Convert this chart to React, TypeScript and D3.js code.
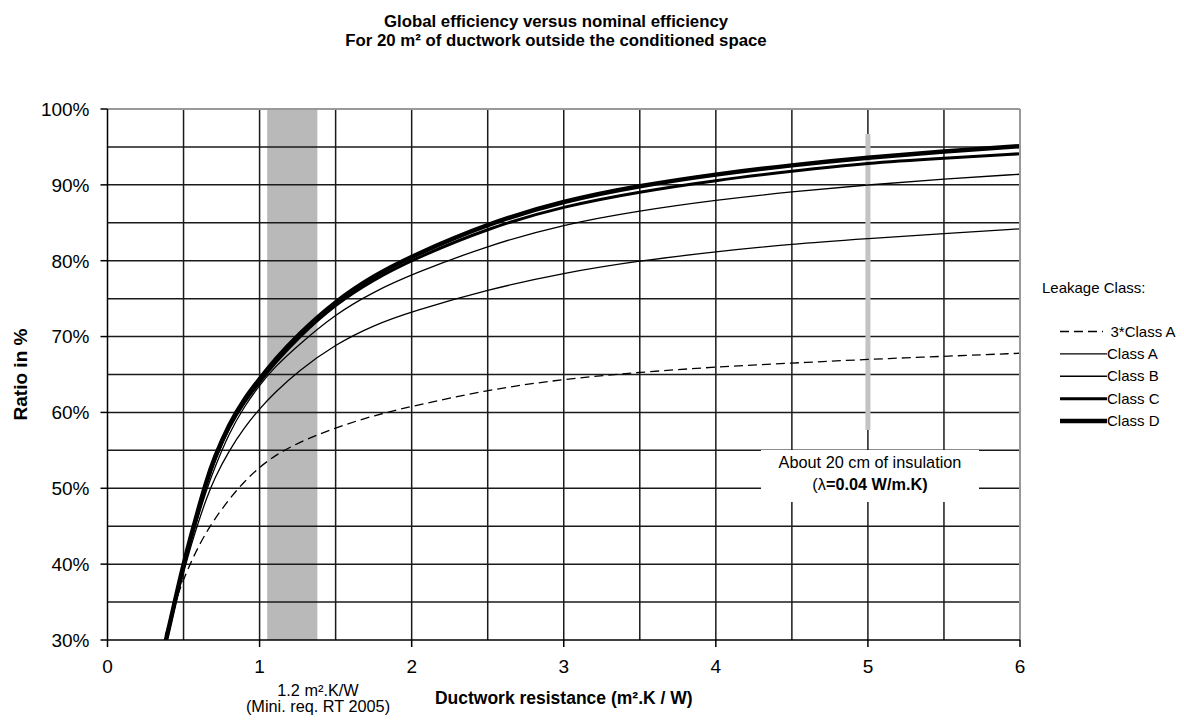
import * as d3 from "d3";

// resistance (m².K/W) sampled along the curves
const resistance = [
  0.38, 0.4, 0.45, 0.5, 0.55, 0.6, 0.65, 0.7, 0.8, 0.9, 1, 1.1, 1.25, 1.5, 1.75, 2, 2.5, 3, 3.5, 4, 4.5, 5, 5.5, 6,
];

// efficiency ratio in % per leakage class
const class3A = [
  30.6, 32, 35.3, 38, 40.3, 42.4, 44.2, 45.8, 48.6, 50.9, 52.8, 54.3, 56, 58, 59.6, 60.8, 63, 64.4, 65.3, 66, 66.5, 67,
  67.4, 67.8,
];
const classA = [
  29.5, 30.9, 35, 38.9, 42.5, 45.7, 48.6, 51.2, 55, 58, 60.5, 62.6, 65.4, 69, 71.5, 73.3, 76.2, 78.4, 80, 81.2, 82.2,
  82.9, 83.6, 84.2,
];
const classB = [
  29.5, 31, 35.3, 39.4, 43.1, 46.5, 49.7, 52.5, 57.3, 60.8, 63.6, 66, 68.8, 73, 75.9, 78.2, 82, 84.8, 86.6, 88, 89.1, 90,
  90.8, 91.4,
];
const classC = [
  29.5, 31.1, 35.5, 39.8, 43.6, 47.2, 50.6, 53.6, 58.2, 61.4, 64, 66.5, 69.8, 74.3, 77.5, 80.1, 84.3, 87.2, 89.1, 90.6,
  91.8, 92.9, 93.5, 94.1,
];
const classD = [
  29.6, 31.3, 35.7, 40, 43.8, 47.4, 50.9, 53.9, 58.5, 61.8, 64.4, 66.9, 70.2, 74.7, 78, 80.6, 84.9, 87.9, 89.9, 91.4,
  92.6, 93.6, 94.4, 95.1,
];

const seriesNames = ["3*Class A", "Class A", "Class B", "Class C", "Class D"];
const seriesValues = [class3A, classA, classB, classC, classD];
const seriesWidths = [1.3, 1.3, 1.3, 3, 4.5];
const seriesDash = ["9,5", null, null, null, null];

const xTicks = [0, 1, 2, 3, 4, 5, 6];
const yTicks = [30, 40, 50, 60, 70, 80, 90, 100];

const minReq = [1.05, 1.38]; // RT 2005 band
const insulation = { r: 5, from: 57.7, to: 96.7 };

const W = 1184;
const H = 720;
const margin = { top: 109, right: 164, bottom: 80, left: 107.5 };
const font = "'Liberation Sans', Arial, sans-serif";

export default function App() {
  const x = d3.scaleLinear().domain([0, 6]).range([margin.left, W - margin.right]);
  const y = d3.scaleLinear().domain([30, 100]).range([H - margin.bottom, margin.top]);

  const line = d3
    .line<number>()
    .x((_, i) => x(resistance[i]))
    .y((d) => y(d))
    .curve(d3.curveBasis);

  const vGrid = d3.range(0.5, 6, 0.5);
  const hGrid = d3.range(35, 100, 5);
  const gridColor = "#1a1a1a";

  const legendX = 1060;
  const legendY = d3.scaleLinear().domain([0, 4]).range([331.5, 421]);
  const plotMidX = (x(0) + x(6)) / 2;
  const plotMidY = (y(30) + y(100)) / 2;

  return (
    <svg width={W} height={H} style={{ position: "absolute", left: 0, top: 0, background: "#fff" }} fontFamily={font}>
      <defs>
        <clipPath id="plot">
          <rect x={x(0)} y={y(100)} width={x(6) - x(0)} height={y(30) - y(100)} />
        </clipPath>
      </defs>

      {/* title */}
      <text x={556} y={27} textAnchor="middle" fontSize={16.8} fontWeight="bold">
        Global efficiency versus nominal efficiency
      </text>
      <text x={556} y={46} textAnchor="middle" fontSize={16.8} fontWeight="bold">
        For 20 m² of ductwork outside the conditioned space
      </text>

      {/* min requirement band */}
      <rect x={x(minReq[0])} y={y(100)} width={x(minReq[1]) - x(minReq[0])} height={y(30) - y(100)} fill="#b9b9b9" />

      {/* grid */}
      {vGrid.map((v) => (
        <line key={"v" + v} x1={x(v)} x2={x(v)} y1={y(100)} y2={y(30)} stroke={gridColor} strokeWidth={1.5} />
      ))}
      {hGrid.map((v) => (
        <line key={"h" + v} x1={x(0)} x2={x(6)} y1={y(v)} y2={y(v)} stroke={gridColor} strokeWidth={1.5} />
      ))}

      {/* insulation marker */}
      <line
        x1={x(insulation.r)}
        x2={x(insulation.r)}
        y1={y(insulation.to)}
        y2={y(insulation.from)}
        stroke="#c3c3c3"
        strokeWidth={5}
      />

      {/* curves */}
      <g clipPath="url(#plot)">
        {seriesValues.map((vals, i) => (
          <path
            key={seriesNames[i]}
            d={line(vals) || ""}
            fill="none"
            stroke="#000"
            strokeWidth={seriesWidths[i]}
            strokeDasharray={seriesDash[i] || undefined}
          />
        ))}
      </g>

      {/* borders */}
      <line x1={x(0)} x2={x(6)} y1={y(100)} y2={y(100)} stroke="#999" strokeWidth={2} />
      <line x1={x(6)} x2={x(6)} y1={y(100)} y2={y(30)} stroke="#999" strokeWidth={2} />
      <line x1={x(0)} x2={x(0)} y1={y(100)} y2={y(30)} stroke="#000" strokeWidth={1.5} />
      <line x1={x(0)} x2={x(6)} y1={y(30)} y2={y(30)} stroke="#000" strokeWidth={1.5} />

      {/* y axis */}
      {yTicks.map((t) => (
        <g key={"yt" + t}>
          <line x1={x(0) - 7} x2={x(0)} y1={y(t)} y2={y(t)} stroke="#000" strokeWidth={1.5} />
          <text x={89.5} y={y(t) + 6.8} textAnchor="end" fontSize={19}>
            {t + "%"}
          </text>
        </g>
      ))}
      <text
        transform={`translate(27, ${plotMidY}) rotate(-90)`}
        textAnchor="middle"
        fontSize={19}
        fontWeight="bold"
      >
        Ratio in %
      </text>

      {/* x axis */}
      {xTicks.map((t) => (
        <g key={"xt" + t}>
          <line x1={x(t)} x2={x(t)} y1={y(30)} y2={y(30) + 7} stroke="#000" strokeWidth={1.5} />
          <text x={x(t)} y={673} textAnchor="middle" fontSize={19}>
            {t}
          </text>
        </g>
      ))}
      <text x={plotMidX} y={703.5} textAnchor="middle" fontSize={17.5} fontWeight="bold">
        Ductwork resistance (m².K / W)
      </text>
      <text x={318} y={696} textAnchor="middle" fontSize={16.3}>
        1.2 m².K/W
      </text>
      <text x={318} y={712} textAnchor="middle" fontSize={16.3}>
        (Mini. req. RT 2005)
      </text>

      {/* insulation label */}
      <rect x={761} y={450} width={218} height={52} fill="#fff" />
      <text x={870} y={468} textAnchor="middle" fontSize={16.3}>
        About 20 cm of insulation
      </text>
      <text x={870} y={490} textAnchor="middle" fontSize={16.3}>
        (λ<tspan fontWeight="bold">=0.04 W/m.K)</tspan>
      </text>

      {/* legend */}
      <text x={1042} y={293} fontSize={15}>
        Leakage Class:
      </text>
      {seriesNames.map((name, i) => (
        <g key={"lg" + name}>
          <line
            x1={legendX}
            x2={i === 0 ? 1103 : 1107}
            y1={legendY(i)}
            y2={legendY(i)}
            stroke="#000"
            strokeWidth={seriesWidths[i]}
            strokeDasharray={seriesDash[i] || undefined}
          />
          <text x={i === 0 ? 1110.5 : 1107} y={legendY(i) + 5} fontSize={15}>
            {name}
          </text>
        </g>
      ))}
    </svg>
  );
}
